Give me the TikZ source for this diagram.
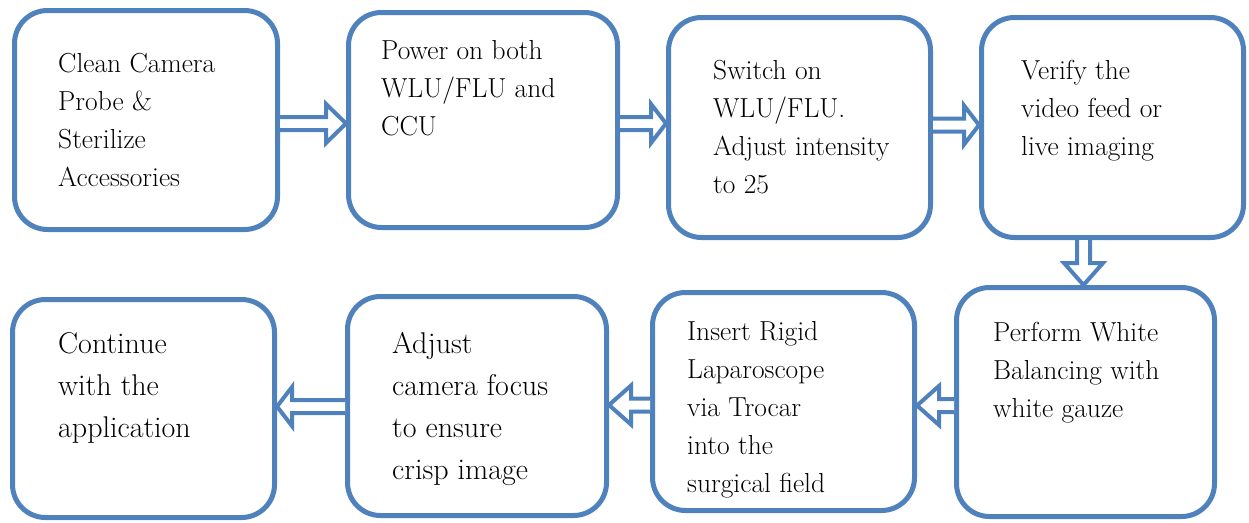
\documentclass[tikz,border=0pt]{standalone}
\usetikzlibrary{calc}
\definecolor{boxblue}{HTML}{4F81BD}
\tikzset{
  box/.style={draw=boxblue, line width=5pt, rounded corners=33pt, fill=white, inner sep=0pt},
  txt/.style={anchor=base west, align=left, inner sep=0pt, font=\fontsize{27.5}{38}\selectfont, text=black},
  txtbig/.style={txt, font=\fontsize{30}{42}\selectfont},
  blockarrow/.style={draw=boxblue, line width=4pt, fill=white, line join=miter}
}
\newcommand\sw{6.5}
\newcommand\hw{19.5}
% right-pointing block arrow: #1 tail anchor, #2 tip anchor, #3 level, #4 head length
\newcommand\arrR[4]{%
  \draw[blockarrow] ($(#1 |- #3)+(0,-\sw)$) -- ($(#2 |- #3)+(-#4,-\sw)$) -- ($(#2 |- #3)+(-#4,-\hw)$)
    -- (#2 |- #3) -- ($(#2 |- #3)+(-#4,\hw)$) -- ($(#2 |- #3)+(-#4,\sw)$) -- ($(#1 |- #3)+(0,\sw)$);}
\newcommand\arrL[4]{%
  \draw[blockarrow] ($(#1 |- #3)+(0,-\sw)$) -- ($(#2 |- #3)+(#4,-\sw)$) -- ($(#2 |- #3)+(#4,-\hw)$)
    -- (#2 |- #3) -- ($(#2 |- #3)+(#4,\hw)$) -- ($(#2 |- #3)+(#4,\sw)$) -- ($(#1 |- #3)+(0,\sw)$);}
\newcommand\arrD[4]{%
  \draw[blockarrow] ($(#1 -| #3)+(-\sw,0)$) -- ($(#2 -| #3)+(-\sw,-#4)$) -- ($(#2 -| #3)+(-\hw,-#4)$)
    -- (#2 -| #3) -- ($(#2 -| #3)+(\hw,-#4)$) -- ($(#2 -| #3)+(\sw,-#4)$) -- ($(#1 -| #3)+(\sw,0)$);}
\begin{document}
\begin{tikzpicture}[x=1pt,y=-1pt]
\useasboundingbox[fill=white] (0,0) rectangle (1249,522);
% boxes
\node[box, minimum width=263pt, minimum height=219pt] (b1) at (146,120) {};
\node[box, minimum width=269pt, minimum height=215pt] (b2) at (483,120) {};
\node[box, minimum width=262pt, minimum height=220pt] (b3) at (799.5,127.5) {};
\node[box, minimum width=262pt, minimum height=220pt] (b4) at (1112.5,127.5) {};
\node[box, minimum width=258pt, minimum height=229pt] (b5) at (1085.5,402) {};
\node[box, minimum width=262pt, minimum height=218pt] (b6) at (783.5,401.5) {};
\node[box, minimum width=259pt, minimum height=219pt] (b7) at (477,406) {};
\node[box, minimum width=262pt, minimum height=218pt] (b8) at (143.5,408.5) {};
% arrow levels
\coordinate (r1) at (0,123.5);
\coordinate (r2) at (0,123.5);
\coordinate (r3) at (0,125);
\coordinate (d1) at (1083.5,0);
\coordinate (l1) at (0,405.5);
\coordinate (l2) at (0,405);
\coordinate (l3) at (0,406.5);
% arrows
\arrR{b1.east}{b2.west}{r1}{20}
\arrR{b2.east}{b3.west}{r2}{15}
\arrR{b3.east}{b4.west}{r3}{15}
\arrD{b4.south}{b5.north}{d1}{22}
\arrL{b5.west}{b6.east}{l1}{22}
\arrL{b6.west}{b7.east}{l2}{22}
\arrL{b7.west}{b8.east}{l3}{15}
% texts (anchor = baseline of last line)
\node[txt] (t1) at (58,186) {Clean Camera\\Probe \&\\Sterilize\\Accessories};
\node[txt] (t2) at (381,135) {Power on both\\WLU/FLU and\\CCU};
\node[txt] (t3) at (713,193) {Switch on\\WLU/FLU.\\Adjust intensity\\to 25};
\node[txt] (t4) at (1021,155) {Verify the\\video feed or\\live imaging};
\node[txt] (t5) at (993,417) {Perform White\\Balancing with\\white gauze};
\node[txt] (t6) at (687,492) {Insert Rigid\\Laparoscope\\via Trocar\\into the\\surgical field};
\node[txtbig] (t7) at (392,479) {Adjust\\camera focus\\to ensure\\crisp image};
\node[txtbig] (t8) at (58,437) {Continue\\with the\\application};
\end{tikzpicture}
\end{document}
